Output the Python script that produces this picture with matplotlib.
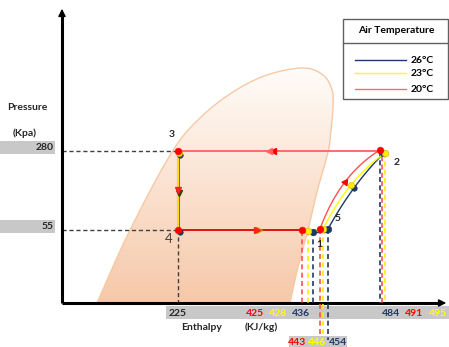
import numpy as np
import matplotlib
matplotlib.use("Agg")
import matplotlib.pyplot as plt
from matplotlib.path import Path
from matplotlib.patches import PathPatch, Rectangle, FancyArrowPatch

# ---------------- data ----------------
temps = ['26°C', '23°C', '20°C']
temp_colors = ['#1f3864', '#ffff00', '#ff6b6b']
pressure_labels = ['280', '55']
enth_main = [225, 425, 428, 436, 484, 491, 495]
enth_main_colors = ['#262626', '#ff0000', '#ffff00', '#1f3864', '#1f3864', '#ff0000', '#ffff00']
enth_low = [443, 446, 454]
enth_low_colors = ['#ff0000', '#ffff00', '#1f3864']

# schematic diagram coordinates (diagram is not to scale)
p_level = {'280': 151, '55': 230}
h_pos = {225: 178, 425: 255, 428: 278, 436: 301, 484: 391, 491: 414, 495: 438,
         443: 297, 446: 317, 454: 338}
# state points per air temperature (20, 23, 26 °C)
st1_x = {'20': 302, '23': 308, '26': 313}
st5_x = {'20': 320, '23': 323, '26': 328}
st2_x = {'20': 380, '23': 385, '26': 383}
st2_y = {'20': 150, '23': 153, '26': 154}
curve_mid = {'20': (345, 182), '23': (351, 185), '26': (354, 188)}
col = {'20': '#ff5050', '23': '#ffff00', '26': '#1f3864'}
dot = {'20': '#ff0000', '23': '#ffee00', '26': '#1f3864'}

# saturation dome outline
dome_pts = [(97, 303), (130, 230), (172, 152), (200, 118), (233, 92), (267, 75),
            (303, 68), (323, 75), (332, 90), (333, 107), (331, 130), (328, 152),
            (317, 192), (308, 230), (298, 267), (290, 303)]

plt.rcParams['font.family'] = ['Lato', 'DejaVu Sans']
fig = plt.figure(figsize=(4.49, 3.47), dpi=100)
ax = fig.add_axes([0, 0, 1, 1])
ax.set_xlim(0, 449)
ax.set_ylim(347, 0)
ax.axis('off')

def catmull(pts, n=20):
    P = np.vstack([pts[0], pts, pts[-1]])
    out = []
    for i in range(1, len(P) - 2):
        p0, p1, p2, p3 = P[i - 1], P[i], P[i + 1], P[i + 2]
        for s in np.linspace(0, 1, n, endpoint=False):
            out.append(0.5 * ((2 * p1) + (-p0 + p2) * s + (2 * p0 - 5 * p1 + 4 * p2 - p3) * s ** 2
                              + (-p0 + 3 * p1 - 3 * p2 + p3) * s ** 3))
    out.append(P[-2])
    return np.array(out)

# ---- dome with gradient ----
sm = catmull(np.array(dome_pts, float))
dome_path = Path(np.vstack([sm, sm[0]]), closed=True)
patch = PathPatch(dome_path, facecolor='none', edgecolor='#f6c9a4', lw=1.0, zorder=2)
ax.add_patch(patch)
yy, xx = np.mgrid[60:305, 90:340]
fy = np.clip((yy - 68) / (303 - 68), 0, 1)
top = np.array([255, 252, 249]) / 255
bot = np.array([246, 200, 168]) / 255
f = fy ** 1.0
img = top[None, None, :] * (1 - f[..., None]) + bot[None, None, :] * f[..., None]
im = ax.imshow(img, extent=(90, 340, 305, 60), origin='upper', zorder=1, interpolation='bilinear')
im.set_clip_path(patch)

# ---- axes ----
ax.plot([62, 62], [303, 14], color='black', lw=2.2, zorder=5, solid_capstyle='butt')
ax.plot([62, 440], [303, 303], color='black', lw=2.2, zorder=5, solid_capstyle='butt')
ax.add_patch(FancyArrowPatch((62, 20), (62, 6), arrowstyle='-|>', mutation_scale=11, color='black', lw=1, zorder=6))
ax.add_patch(FancyArrowPatch((436, 303), (449, 303), arrowstyle='-|>', mutation_scale=11, color='black', lw=1, zorder=6))

# ---- gray bands / tick labels ----
fs = 7.5
for lab in pressure_labels:
    y = p_level[lab]
    ax.add_patch(Rectangle((0, y - 10), 55, 13, color='#c8c8c8', zorder=3, lw=0))
    ax.text(54, y - 3.5, lab, ha='right', va='center', fontsize=fs, fontweight='bold', color='#262626', zorder=4)
    ax.plot([62, 178], [y, y], ls=(0, (3, 2)), color='#404040', lw=1.0, zorder=4)
ax.plot([178, 178], [230, 303], ls=(0, (3, 2)), color='#404040', lw=1.0, zorder=4)
ax.text(27, 107, 'Pressure', ha='center', va='center', fontsize=fs, fontweight='bold', color='#262626')
ax.text(25, 133, '(Kpa)', ha='center', va='center', fontsize=fs, fontweight='bold', color='#262626')

ax.add_patch(Rectangle((166, 306), 283, 13, color='#c8c8c8', zorder=3, lw=0))
for h, c in zip(enth_main, enth_main_colors):
    ax.text(h_pos[h], 313, str(h), ha='center', va='center', fontsize=fs, fontweight='bold', color=c, zorder=4)
ax.add_patch(Rectangle((289, 336), 58, 11, color='#c8c8c8', zorder=3, lw=0))
for h, c in zip(enth_low, enth_low_colors):
    ax.text(h_pos[h], 342.5, str(h), ha='center', va='center', fontsize=fs, fontweight='bold', color=c, zorder=4)
ax.text(202, 327, 'Enthalpy', ha='center', va='center', fontsize=fs, fontweight='bold', color='#262626')
ax.text(261, 327, '(KJ/kg)', ha='center', va='center', fontsize=fs, fontweight='bold', color='#262626')

# ---- cycle lines ----
ax.plot([178, 380], [151, 151], color='#ff6060', lw=1.3, zorder=6)
ax.plot([178, 178], [151, 230], color='#ff3030', lw=2.2, zorder=6)
ax.plot([178, 178], [151, 230], color='#ffff00', lw=1.2, zorder=6)
ax.plot([178, 302], [230, 230], color='#e00000', lw=1.3, zorder=6)
ax.plot([308, 328], [231.5, 231.5], color='#1f3864', lw=1.0, zorder=6)
ax.plot([302, 326], [230, 230], color='#ffff00', lw=1.8, zorder=6)

# direction arrows
ax.plot([273], [151], marker='<', color='#ff0000', ms=5, zorder=7)
ax.plot([269], [151], marker='<', color='#ff6060', ms=4, zorder=7)
ax.plot([179], [193], marker='v', color='#3a3a10', ms=4, zorder=7)
ax.plot([178], [190], marker='v', color='#ff2020', ms=5, zorder=7)
ax.plot([259], [230], marker='>', color='#c0a000', ms=5, zorder=7)
ax.plot([257], [230], marker='>', color='#ff2020', ms=4, zorder=7)

# compressor curves (quadratic bezier through mid point)
for k in ['26', '23', '20']:
    P0 = np.array([st5_x[k], 229.0])
    P2 = np.array([st2_x[k], st2_y[k]])
    M = np.array(curve_mid[k], float)
    P1 = 2 * M - 0.5 * (P0 + P2)
    s = np.linspace(0, 1, 60)[:, None]
    B = (1 - s) ** 2 * P0 + 2 * (1 - s) * s * P1 + s ** 2 * P2
    ax.plot(B[:, 0], B[:, 1], color=col[k], lw=1.0, zorder=6)

# dashed verticals
for k in ['20', '23', '26']:
    ax.plot([st1_x[k]] * 2, [231, 303], ls=(0, (3, 2)), color=col[k] if k != '23' else '#ffee00', lw=1.2, zorder=5)
low_end = {'20': 337, '23': 337, '26': 340}
for k in ['20', '23', '26']:
    ax.plot([st5_x[k]] * 2, [229, low_end[k]], ls=(0, (3, 2)), color=col[k] if k != '23' else '#ffee00', lw=1.2, zorder=7)
ax.plot([380, 380], [152, 303], ls=(0, (3, 2)), color='#1f3864', lw=1.2, zorder=5)
ax.plot([381.5, 381.5], [152, 303], ls=(2.5, (3, 2)), color='#ff5050', lw=1.2, zorder=5)
ax.plot([385, 385], [153, 303], ls=(0, (3, 2)), color='#ffee00', lw=1.2, zorder=5)

# state dots
def d(x, y, k, ms=4.8):
    ax.plot([x], [y], marker='o', ms=ms, color=dot[k], mec=dot[k] if k != '23' else '#c8b400', mew=0.4, zorder=8)
d(180, 154.5, '26', 4); d(179, 153, '23', 4.5); d(178, 151, '20')
d(180, 232, '26', 4); d(178, 230, '20')
for k in ['26', '23', '20']:
    d(st1_x[k], 230 + {'20': 0, '23': 1, '26': 2}[k], k)
    d(st5_x[k], 229, k)
d(383, 153, '26', 4.5); d(385, 153, '23'); d(380, 150, '20')
d(354, 188, '26', 4); d(351, 185, '23', 4.5)
ax.plot([345], [182], marker=(3, 0, -35), ms=5, color='#ff0000', zorder=8)

# state labels
for txt, x, y in [('3', 172, 134), ('2', 397, 162), ('5', 338, 218), ('1', 319, 244)]:
    ax.text(x, y, txt, ha='center', va='center', fontsize=fs, fontweight='bold', color='#262626', zorder=9)
ax.text(169, 239, '4', ha='center', va='center', fontsize=9.5, color='#404040', zorder=9)

# ---- legend ----
ax.add_patch(Rectangle((343, 19), 105, 80, facecolor='white', edgecolor='#606060', lw=1.0, zorder=9))
ax.plot([343, 448], [43, 43], color='#606060', lw=1.0, zorder=10)
ax.text(396, 30, 'Air Temperature', ha='center', va='center', fontsize=7.5, fontweight='bold', color='black', zorder=10)
for lab, c, y in zip(temps, temp_colors, [60, 73, 89]):
    ax.plot([355, 406], [y, y], color=c, lw=1.0, zorder=10)
    ax.text(411, y, lab, ha='left', va='center', fontsize=fs, fontweight='bold', color='black', zorder=10)

fig.savefig('out.png', dpi=100)
